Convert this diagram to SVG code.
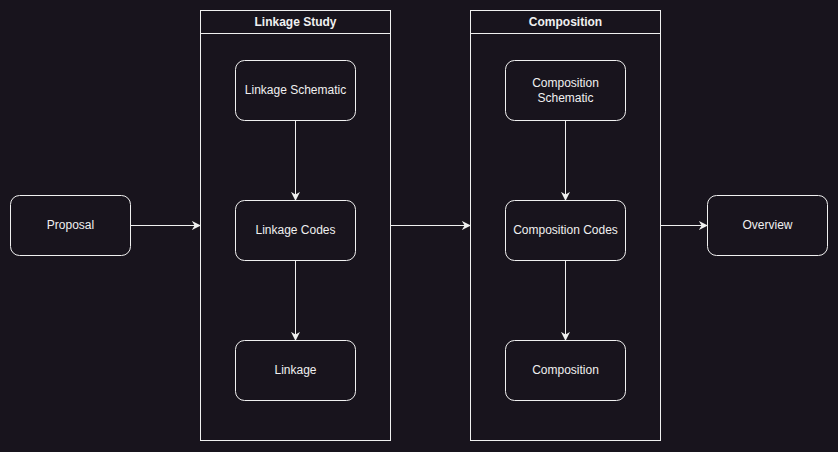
<svg xmlns="http://www.w3.org/2000/svg" width="838" height="452" viewBox="0 0 838 452">
<defs>
<marker id="arr" viewBox="0 0 10 10" refX="9" refY="5" markerWidth="9" markerHeight="9" markerUnits="userSpaceOnUse" orient="auto">
<path d="M0,0 L10,5 L0,10 L3,5 Z" fill="#f0f0f0"/>
</marker>
<style>
.bg{fill:#18141d}
.n{fill:#18141d;stroke:#f0f0f0;stroke-width:1}
.t{font-family:"Liberation Sans",Arial,sans-serif;font-size:12px;fill:#f0f0f0;text-anchor:middle;dominant-baseline:central}
.h{font-weight:bold}
.e{stroke:#f0f0f0;stroke-width:1;fill:none;marker-end:url(#arr)}
</style>
</defs>
<rect class="bg" x="0" y="0" width="838" height="452"/>
<g id="linkage-study">
<rect class="n" x="200.5" y="10.5" width="190" height="430"/>
<line x1="200.5" y1="33.5" x2="390.5" y2="33.5" stroke="#f0f0f0"/>
<text class="t h" x="295.5" y="22">Linkage Study</text>
</g>
<g id="composition">
<rect class="n" x="470.5" y="10.5" width="190" height="430"/>
<line x1="470.5" y1="33.5" x2="660.5" y2="33.5" stroke="#f0f0f0"/>
<text class="t h" x="565.5" y="22">Composition</text>
</g>
<g id="proposal">
<rect class="n" x="10.5" y="195.5" width="120" height="60" rx="9"/>
<text class="t" x="70.5" y="225">Proposal</text>
</g>
<g id="linkage-schematic">
<rect class="n" x="235.5" y="60.5" width="120" height="60" rx="9"/>
<text class="t" x="295.5" y="90">Linkage Schematic</text>
</g>
<g id="linkage-codes">
<rect class="n" x="235.5" y="200.5" width="120" height="60" rx="9"/>
<text class="t" x="295.5" y="230">Linkage Codes</text>
</g>
<g id="linkage">
<rect class="n" x="235.5" y="340.5" width="120" height="60" rx="9"/>
<text class="t" x="295.5" y="370">Linkage</text>
</g>
<g id="composition-schematic">
<rect class="n" x="505.5" y="60.5" width="120" height="60" rx="9"/>
<text class="t" x="565.5" y="83">Composition</text>
<text class="t" x="565.5" y="98">Schematic</text>
</g>
<g id="composition-codes">
<rect class="n" x="505.5" y="200.5" width="120" height="60" rx="9"/>
<text class="t" x="565.5" y="230">Composition Codes</text>
</g>
<g id="composition-node">
<rect class="n" x="505.5" y="340.5" width="120" height="60" rx="9"/>
<text class="t" x="565.5" y="370">Composition</text>
</g>
<g id="overview">
<rect class="n" x="707.5" y="195.5" width="120" height="60" rx="9"/>
<text class="t" x="767.5" y="225">Overview</text>
</g>
<g id="connectors">
<line class="e" x1="130.5" y1="225.5" x2="200" y2="225.5"/>
<line class="e" x1="390.5" y1="225.5" x2="470" y2="225.5"/>
<line class="e" x1="660.5" y1="225.5" x2="707" y2="225.5"/>
<line class="e" x1="295.5" y1="120.5" x2="295.5" y2="200"/>
<line class="e" x1="295.5" y1="260.5" x2="295.5" y2="340"/>
<line class="e" x1="565.5" y1="120.5" x2="565.5" y2="200"/>
<line class="e" x1="565.5" y1="260.5" x2="565.5" y2="340"/>
</g>
</svg>
